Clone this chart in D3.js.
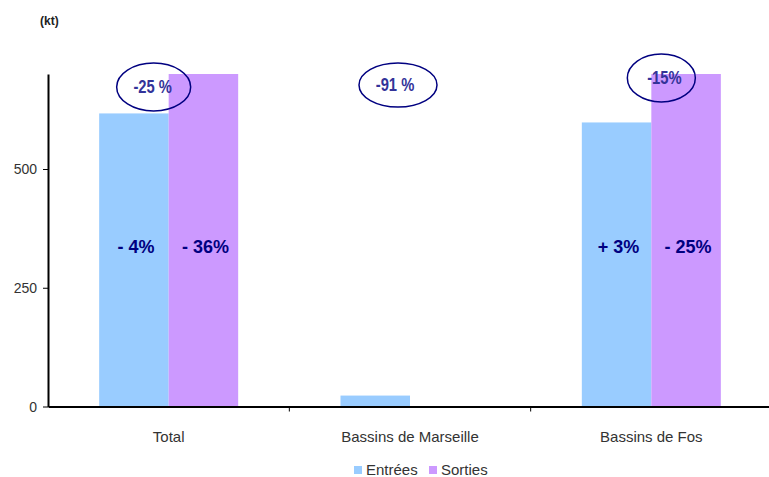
<!DOCTYPE html>
<html>
<head>
<meta charset="utf-8">
<script src="https://cdn.jsdelivr.net/npm/d3@7"></script>
<style>
  body { margin: 0; background: #fff; }
  text { font-family: "Liberation Sans Narrow", "Arial Narrow", "Liberation Sans", sans-serif; }
</style>
</head>
<body>
<svg id="chart"></svg>
<script>
// data (kt)
const categories = ["Total", "Bassins de Marseille", "Bassins de Fos"];
const seriesNames = ["Entrées", "Sorties"];
const entrees = [617, 23, 598];
const sorties = [700, 0, 700];
const yTicks = [0, 250, 500];
// variation labels inside the bars
const entreesLabels = ["- 4%", null, "+ 3%"];
const sortiesLabels = ["- 36%", null, "- 25%"];
// circled labels above each group
const totalLabels = ["-25 %", "-91 %", "-15%"];

const w = 769, h = 477;
const margin = { top: 74, right: 0, bottom: 70, left: 48 };

const svg = d3.select("#chart").attr("width", w).attr("height", h);

const x = d3.scaleBand()
    .domain(categories)
    .range([margin.left, 772]);

const xInner = d3.scaleBand()
    .domain(seriesNames)
    .range([0, x.bandwidth()])
    .paddingOuter(0.736);

const y = d3.scaleLinear()
    .domain([0, 700])
    .range([h - margin.bottom - 0.5, margin.top]);

const colors = { "Entrées": "#99ccff", "Sorties": "#cc99ff" };

const rows = categories.map((c, i) => ({ cat: c, "Entrées": entrees[i], "Sorties": sorties[i] }));

// bars
const groups = svg.append("g")
    .selectAll("g")
    .data(rows)
    .join("g")
    .attr("transform", d => `translate(${x(d.cat)},0)`);

groups.selectAll("rect")
    .data(d => seriesNames.map(k => ({ key: k, value: d[k] })))
    .join("rect")
    .attr("x", d => xInner(d.key))
    .attr("y", d => y(d.value))
    .attr("width", xInner.bandwidth())
    .attr("height", d => y(0) - y(d.value))
    .attr("fill", d => colors[d.key]);

// labels inside bars
const inner = [];
categories.forEach((c, i) => {
    if (entreesLabels[i]) inner.push({ cat: c, key: "Entrées", text: entreesLabels[i] });
    if (sortiesLabels[i]) inner.push({ cat: c, key: "Sorties", text: sortiesLabels[i] });
});
svg.append("g")
    .selectAll("text")
    .data(inner)
    .join("text")
    .attr("x", d => x(d.cat) + xInner(d.key) + xInner.bandwidth() / 2 + 2)
    .attr("y", 253)
    .attr("text-anchor", "middle")
    .style("font-family", "'Liberation Sans', Arial, sans-serif")
    .style("font-size", "18px")
    .style("font-weight", "bold")
    .attr("fill", "#000080")
    .text(d => d.text);

// circled totals (offsets from group centre)
const ellipses = [
    { cx: -15, cy: 87, rx: 37, ry: 24, tx: -1 },
    { cx: -12, cy: 85, rx: 39, ry: 22, tx: -3 },
    { cx: 10, cy: 78, rx: 34, ry: 24, tx: 3 }
];
const circ = svg.append("g")
    .selectAll("g")
    .data(categories.map((c, i) => ({ cat: c, text: totalLabels[i], e: ellipses[i] })))
    .join("g")
    .attr("transform", d => `translate(${x(d.cat) + x.bandwidth() / 2 + d.e.cx},0)`);

circ.append("ellipse")
    .attr("cx", 0)
    .attr("cy", d => d.e.cy)
    .attr("rx", d => d.e.rx)
    .attr("ry", d => d.e.ry)
    .attr("fill", "none")
    .attr("stroke", "#000080")
    .attr("stroke-width", 1.5);

circ.append("text")
    .attr("transform", d => `translate(${d.e.tx},${d.e.cy + 6}) scale(0.82,1)`)
    .attr("text-anchor", "middle")
    .style("font-family", "'Liberation Sans', Arial, sans-serif")
    .style("font-size", "18px")
    .style("font-weight", "bold")
    .attr("fill", "#333399")
    .text(d => d.text);

// y axis
const yAxis = svg.append("g")
    .attr("transform", `translate(${margin.left},0)`)
    .call(d3.axisLeft(y).tickValues(yTicks).tickSize(5).tickSizeOuter(0));
yAxis.select(".domain").attr("stroke", "#000").attr("stroke-width", 2);
yAxis.selectAll(".tick text")
    .style("font-size", "14px")
    .attr("fill", "#333")
    .attr("x", -11)
    .attr("dy", "0.35em");

// x axis
const xAxis = svg.append("g")
    .attr("transform", `translate(0,${y(0)})`)
    .call(d3.axisBottom(x).tickSize(0).tickSizeOuter(0));
xAxis.select(".domain").attr("stroke", "#000").attr("stroke-width", 2);
xAxis.selectAll(".tick text")
    .attr("y", 35)
    .attr("dy", 0)
    .style("font-size", "15px")
    .attr("fill", "#333");
// category separators
xAxis.append("g")
    .selectAll("line")
    .data(categories.slice(1))
    .join("line")
    .attr("x1", d => x(d))
    .attr("x2", d => x(d))
    .attr("y1", 0)
    .attr("y2", 5)
    .attr("stroke", "#000");

// unit
svg.append("text")
    .attr("x", 40)
    .attr("y", 25)
    .style("font-family", "'Liberation Sans', Arial, sans-serif")
    .style("font-size", "12px")
    .style("font-weight", "bold")
    .attr("fill", "#222")
    .text("(kt)");

// legend
const legend = svg.append("g")
    .selectAll("g")
    .data(seriesNames)
    .join("g")
    .attr("transform", (d, i) => `translate(${354 + i * 75},466)`);
legend.append("rect")
    .attr("width", 8)
    .attr("height", 8)
    .attr("fill", d => colors[d]);
legend.append("text")
    .attr("x", 12)
    .attr("y", 9)
    .style("font-size", "15px")
    .attr("fill", "#333")
    .text(d => d);
</script>
</body>
</html>
